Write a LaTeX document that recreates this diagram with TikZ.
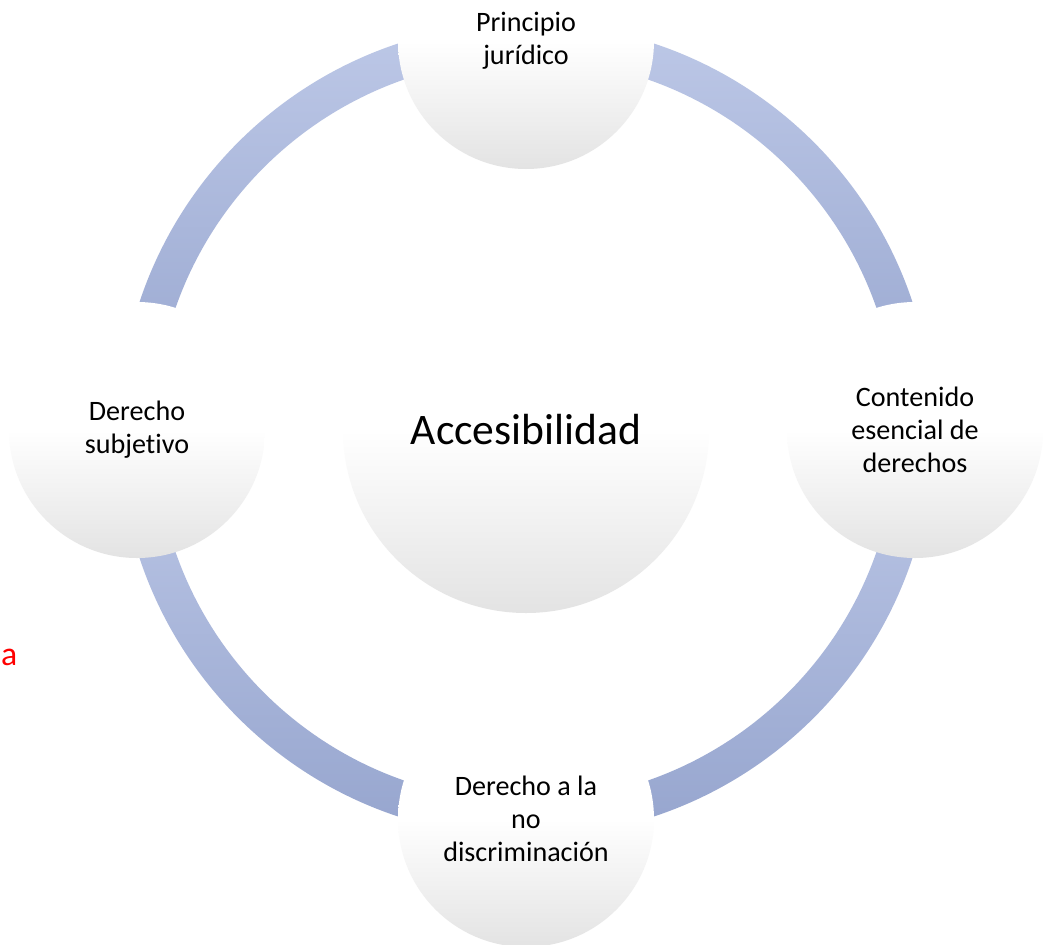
\documentclass[tikz,border=0pt]{standalone}
\usepackage{fontspec}
\setmainfont{Carlito}[Ligatures=NoCommon]
\usepackage{tikz}

\definecolor{arctop}{RGB}{189,200,231}
\definecolor{arcbot}{RGB}{150,165,206}
\definecolor{ballbot}{RGB}{227,227,227}
\pgfdeclareverticalshading{ballfade}{100bp}{color(0bp)=(ballbot); color(25bp)=(ballbot); color(50bp)=(white); color(100bp)=(white)}
\pgfdeclarelayer{ring}
\pgfsetlayers{ring,main}

\begin{document}
\begin{tikzpicture}[main_node/.style={circle,shade,shading=ballfade,minimum size=6.4cm,inner sep=0pt,align=center,font=\fontsize{20}{23.5}\selectfont},
    big_node/.style={main_node,minimum size=9.15cm,font=\fontsize{31}{36}\selectfont},
    ring_part/.style={top color=arctop,bottom color=arcbot}]

    \useasboundingbox (-13.15,-12.85) rectangle (13.125,10.75);

    \node[big_node]  (1)   at (0,0)       {Accesibilidad};
    \node[main_node] (2)   at (90:9.725)  {Principio\\jurídico};
    \node[main_node] (3)   at (0:9.725)   {Contenido\\esencial de\\derechos};
    \node[main_node] (4)   at (270:9.725) {Derecho a la\\no\\discriminación};
    \node[main_node] (5)   at (180:9.725) {Derecho\\subjetivo};
    \node[text=red, inner sep=0pt, anchor=base west, font=\fontsize{24}{28}\selectfont] (6) at (-13.13,-5.875) {a};

    \begin{pgfonlayer}{ring}
    \fill[white] (-13.15,-12.85) rectangle (13.125,10.75);
    % the four parts of the ring
    \shade[ring_part] ([yshift=4.5mm]2.center) arc[start angle=90, end angle=180, radius=10.175cm]
        -- ([xshift=4.5mm]5.center) arc[start angle=180, end angle=90, radius=9.275cm] -- cycle;
    \shade[ring_part] ([yshift=4.5mm]2.center) arc[start angle=90, end angle=0, radius=10.175cm]
        -- ([xshift=-4.5mm]3.center) arc[start angle=0, end angle=90, radius=9.275cm] -- cycle;
    \shade[ring_part] ([xshift=4.5mm]3.center) arc[start angle=0, end angle=-90, radius=10.175cm]
        -- ([yshift=4.5mm]4.center) arc[start angle=-90, end angle=0, radius=9.275cm] -- cycle;
    \shade[ring_part] ([xshift=-4.5mm]5.center) arc[start angle=180, end angle=270, radius=10.175cm]
        -- ([yshift=4.5mm]4.center) arc[start angle=270, end angle=180, radius=9.275cm] -- cycle;
    \end{pgfonlayer}

\end{tikzpicture}
\end{document}
